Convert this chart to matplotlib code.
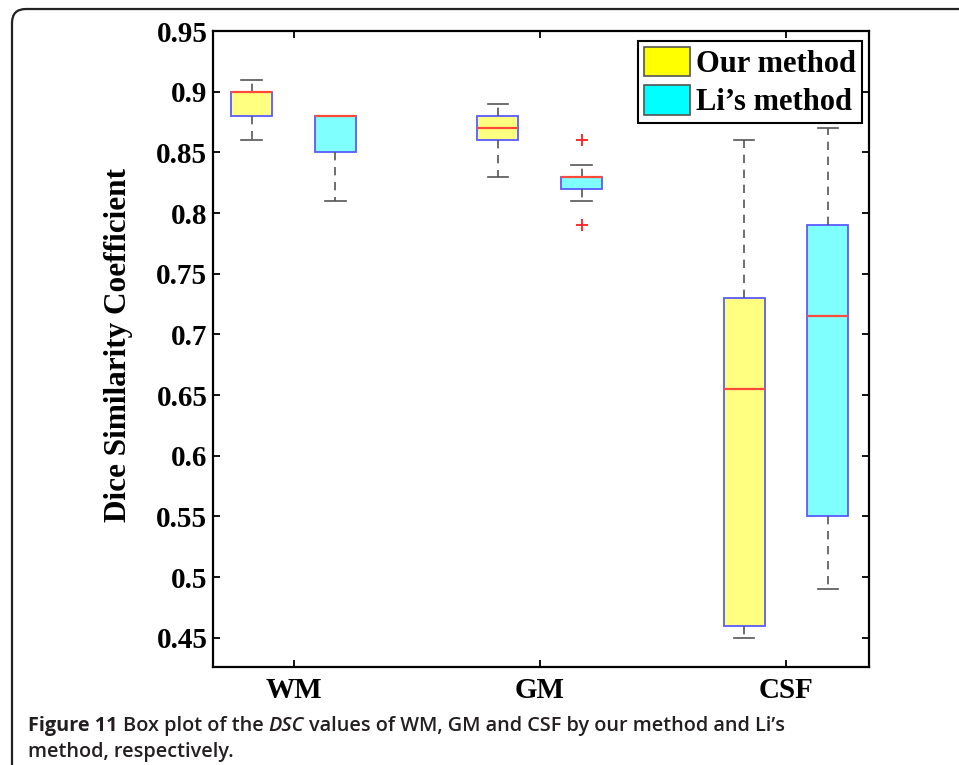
import matplotlib
matplotlib.use("Agg")
import matplotlib.pyplot as plt
from matplotlib.patches import Patch, FancyBboxPatch
from matplotlib.transforms import IdentityTransform

# data
groups = ["WM", "GM", "CSF"]
ours_lo = [0.86, 0.83, 0.45]
ours_q1 = [0.88, 0.86, 0.46]
ours_med = [0.90, 0.87, 0.655]
ours_q3 = [0.90, 0.88, 0.73]
ours_hi = [0.91, 0.89, 0.86]
ours_fliers = [[], [], []]

li_lo = [0.81, 0.81, 0.49]
li_q1 = [0.85, 0.82, 0.55]
li_med = [0.88, 0.83, 0.715]
li_q3 = [0.88, 0.83, 0.79]
li_hi = [0.88, 0.84, 0.87]
li_fliers = [[], [0.86, 0.79], []]

yticks = [0.45, 0.5, 0.55, 0.6, 0.65, 0.7, 0.75, 0.8, 0.85, 0.9, 0.95]
ytick_labels = ["0.45", "0.5", "0.55", "0.6", "0.65", "0.7", "0.75", "0.8", "0.85", "0.9", "0.95"]


def make_stats(lo, q1, med, q3, hi, fl):
    return [dict(whislo=a, q1=b, med=c, q3=d, whishi=e, fliers=f)
            for a, b, c, d, e, f in zip(lo, q1, med, q3, hi, fl)]


plt.rcParams["font.family"] = ["Liberation Serif", "DejaVu Serif"]

W, H = 959, 765
fig = plt.figure(figsize=(W / 100, H / 100), dpi=100)
ax = fig.add_axes([213 / W, 1 - 667 / H, 656 / W, (667 - 31) / H])

pos = [1, 2, 3]
off = 0.17
bw = 0.167
edge = "#5a5aff"
wcol = "#555555"

for stats, shift, fill in [(make_stats(ours_lo, ours_q1, ours_med, ours_q3, ours_hi, ours_fliers), -off, "#ffff80"),
                           (make_stats(li_lo, li_q1, li_med, li_q3, li_hi, li_fliers), off, "#80ffff")]:
    ax.bxp(stats, positions=[p + shift for p in pos], widths=bw, patch_artist=True,
           showfliers=True, manage_ticks=False,
           boxprops=dict(facecolor=fill, edgecolor=edge, linewidth=1.3),
           medianprops=dict(color="#ff4a3a", linewidth=1.6),
           whiskerprops=dict(color=wcol, linewidth=1.2, linestyle=(0, (5, 4))),
           capprops=dict(color=wcol, linewidth=1.2),
           capwidths=bw / 2,
           flierprops=dict(marker="+", markeredgecolor="#ff2020", markersize=8, markeredgewidth=1.3))

ax.set_xlim(0.673, 3.337)
ax.set_ylim(0.426, 0.95)
ax.set_xticks(pos)
ax.set_xticklabels(groups, fontsize=21, fontweight="bold")
ax.set_yticks(yticks)
ax.set_yticklabels(ytick_labels, fontsize=21, fontweight="bold")
ax.tick_params(direction="in", length=5, width=1.3, top=True, right=True)
ax.tick_params(axis="x", pad=7)
ax.tick_params(axis="y", pad=4)
for s in ax.spines.values():
    s.set_linewidth(1.6)

ax.set_ylabel("Dice Similarity Coefficient", fontsize=22.5, fontweight="bold")
ax.yaxis.set_label_coords(-0.122, 0.507)

handles = [Patch(facecolor="#ffff00", edgecolor="#555555", linewidth=1.2),
           Patch(facecolor="#00ffff", edgecolor="#555555", linewidth=1.2)]
leg = fig.legend(handles, ["Our method", "Li\u2019s method"], loc="upper right",
                 bbox_to_anchor=(862 / W, 1 - 41 / H), borderaxespad=0,
                 prop=dict(family="Liberation Serif", weight="bold", size=22),
                 fancybox=False, framealpha=1, edgecolor="black",
                 handlelength=1.5, handleheight=1.1, handletextpad=0.2,
                 labelspacing=0.2, borderpad=0.2)
leg.get_frame().set_linewidth(1.5)

# rounded frame around the whole figure, running off the right and bottom
frame = FancyBboxPatch((12, -60), 1100, H - 9 + 60, boxstyle="round,pad=0,rounding_size=14",
                       transform=IdentityTransform(), facecolor="none",
                       edgecolor="#222222", linewidth=1.6, clip_on=False)
fig.patches.append(frame)

# caption
cap_font = "Open Sans"
renderer = fig.canvas.get_renderer()


def width_of(s, size, weight="semibold", style="normal"):
    t = fig.text(0, 0, s, fontsize=size, family=cap_font, fontweight=weight, fontstyle=style)
    w = t.get_window_extent(renderer).width
    t.remove()
    return w


line1 = [("Figure 11", "bold", "normal"), ("Box plot of the", "semibold", "normal"),
         ("DSC", "semibold", "italic"),
         ("values of WM, GM and CSF by our method and Li\u2019s", "semibold", "normal")]
line2 = [("method, respectively.", "semibold", "normal")]


def total_width(parts, size):
    gap = width_of("x x", size) - width_of("xx", size)
    return sum(width_of(s, size, w, st) for s, w, st in parts) + gap * (len(parts) - 1), gap


w10, _ = total_width(line1, 10)
cap_size = 10 * (786 - 28) / w10
for parts, base in [(line1, 731), (line2, 757)]:
    _, gap = total_width(parts, cap_size)
    x = 28
    for s, wgt, st in parts:
        fig.text(x / W, 1 - base / H, s, fontsize=cap_size, family=cap_font, fontweight=wgt,
                 fontstyle=st, color="#231f20", va="baseline", ha="left")
        x += width_of(s, cap_size, wgt, st) + gap

fig.savefig("out.png", dpi=100)
